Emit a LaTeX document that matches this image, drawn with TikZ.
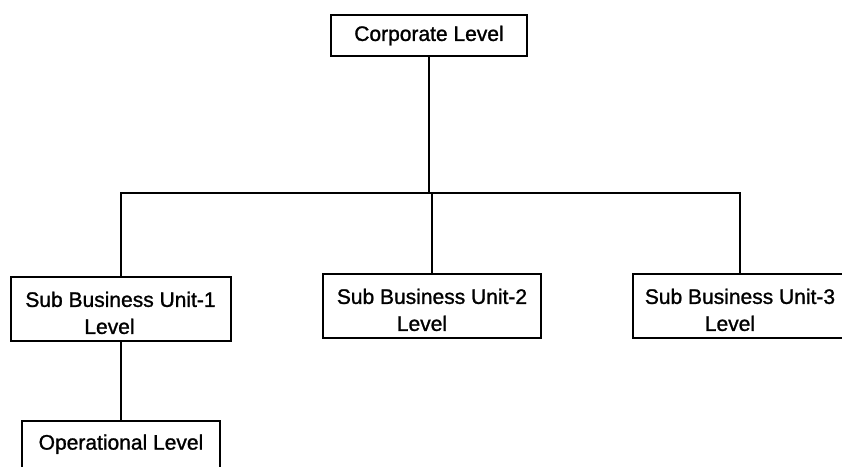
\documentclass[tikz,border=0pt]{standalone}
\usepackage{fontspec}
\setmainfont{Liberation Sans}[BoldFont=Liberation Sans, BoldFeatures={FakeBold=1.2}]
\begin{document}
\begin{tikzpicture}[x=1pt,y=-1pt,
  level box/.style={draw, line width=2pt, rectangle, inner sep=0pt,
    font=\fontsize{21}{27}\selectfont\bfseries},
  unit box/.style={level box, align=left, minimum width=220pt, minimum height=64pt},
  link/.style={line width=2pt}]
  \clip (0,0) rectangle (842,466);
  \useasboundingbox (0,0) rectangle (842,466);

  % top of the hierarchy
  \node[level box, minimum width=196pt, minimum height=41pt] (corp) at (429,35.5) {Corporate Level};

  % business units
  \node[unit box] (sub1) at (120.5,309)
    {\rule{0pt}{23pt}Sub Business Unit-1\\\hspace*{59pt}Level};
  \node[unit box, minimum width=218pt] (sub2) at (432,306)
    {\rule{0pt}{23pt}Sub Business Unit-2\\\hspace*{60pt}Level};
  \node[unit box, minimum width=214pt] (sub3) at (740,306)
    {\rule{0pt}{23pt}Sub Business Unit-3\\\hspace*{60pt}Level};

  % operational level under unit 1
  \node[level box, minimum width=198pt, minimum height=54pt] (oper) at (121,448)
    {\raisebox{12pt}{Operational Level}};

  % connectors
  \coordinate (bus) at (429,193);
  \draw[link] (corp.south) -- (bus);
  \draw[link] (sub1.north) |- (bus) -| (sub3.north);
  \draw[link] (sub2.north) -- (sub2.north |- bus);
  \draw[link] (sub1.south) -- (sub1.south |- oper.north);
\end{tikzpicture}
\end{document}
